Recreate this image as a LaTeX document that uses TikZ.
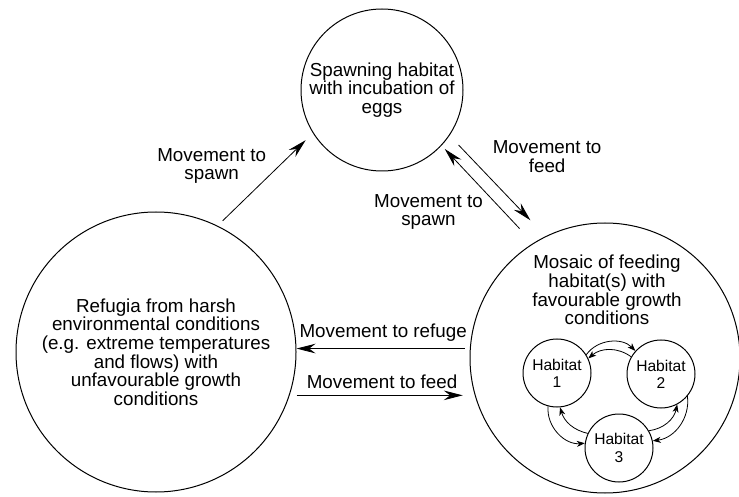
\documentclass[tikz,border=0pt]{standalone}
\usepackage{fontspec}
\setmainfont{Liberation Sans}
\usetikzlibrary{positioning, arrows.meta}

\begin{document}
\begin{tikzpicture}[
            x=0.5pt, y=-0.5pt,
            zone/.style={draw, circle, line width=0.5pt, inner sep=0pt, align=center, font=\fontsize{9.4}{9.3}\selectfont},
            patch/.style={draw, circle, line width=0.5pt, minimum size=34pt, inner sep=0pt, align=center, font=\fontsize{7.8}{8.6}\selectfont},
            lbl/.style={align=center, font=\fontsize{9.4}{9.3}\selectfont},
            arr/.style={-{Stealth[length=9.5pt, width=4.8pt, inset=3.2pt]}, line width=0.4pt},
            sarr/.style={-{Stealth[length=4pt, width=3pt, inset=1.2pt]}, line width=0.4pt}
        ]
            \useasboundingbox (0,0) rectangle (739,497);

            % Three main zones
            \node[zone, minimum size=81pt] (spawning) at (382,90) {Spawning habitat\\with incubation of\\eggs};
            \node[zone, minimum size=140pt] (refugia) at (156,352) {Refugia from harsh\\environmental conditions\\(e.g. extreme temperatures\\and flows) with\\unfavourable growth\\conditions};
            \node[zone, minimum size=135pt] (feeding) at (605,358) {};
            \node[lbl] (feedtext) at (607,290) {Mosaic of feeding\\habitat(s) with\\favourable growth\\conditions};

            % Habitats inside the mosaic
            \node[patch] (hab1) at (557,373) {Habitat\\1};
            \node[patch] (hab2) at (661,374) {Habitat\\2};
            \node[patch] (hab3) at (619,448) {Habitat\\3};

            % Movements between zones
            \draw[arr, shorten <=3.5pt, shorten >=5pt] (refugia.64) -- (spawning.-148)
                node[lbl, pos=0.645, left=3pt] (lspawn1) {Movement to\\spawn};
            \draw[arr, shorten <=6.5pt, shorten >=11pt] (spawning.-34) -- (feeding.116)
                node[lbl, pos=0.21, right=8pt] (lfeed1) {Movement to\\feed};
            \draw[arr, shorten <=10pt, shorten >=2.3pt] (feeding.122) -- (spawning.-43)
                node[lbl, pos=0.32, left=7pt] (lspawn2) {Movement to\\spawn};
            \draw[arr, shorten <=2.5pt] (feeding.176) -- (feeding.176 -| refugia.east)
                node[lbl, midway, above] (lrefuge) {Movement to refuge};
            \draw[arr, shorten >=6pt] (feeding.196 -| refugia.east) -- (feeding.196)
                node[lbl, pos=0.48, above] (lfeed2) {Movement to feed};

            % Movements between habitats
            \draw[sarr] (hab1.32) to[bend left=50] (hab2.138);
            \draw[sarr] (hab2.150) to[bend right=38] (hab1.25);
            \draw[sarr] (hab3.155) to[bend left=30] (hab1.-85);
            \draw[sarr] (hab1.-105) to[bend right=50] (hab3.172);
            \draw[sarr] (hab3.30) to[bend right=35] (hab2.-62);
            \draw[sarr] (hab2.-40) to[bend left=45] (hab3.12);
        \end{tikzpicture}
\end{document}
